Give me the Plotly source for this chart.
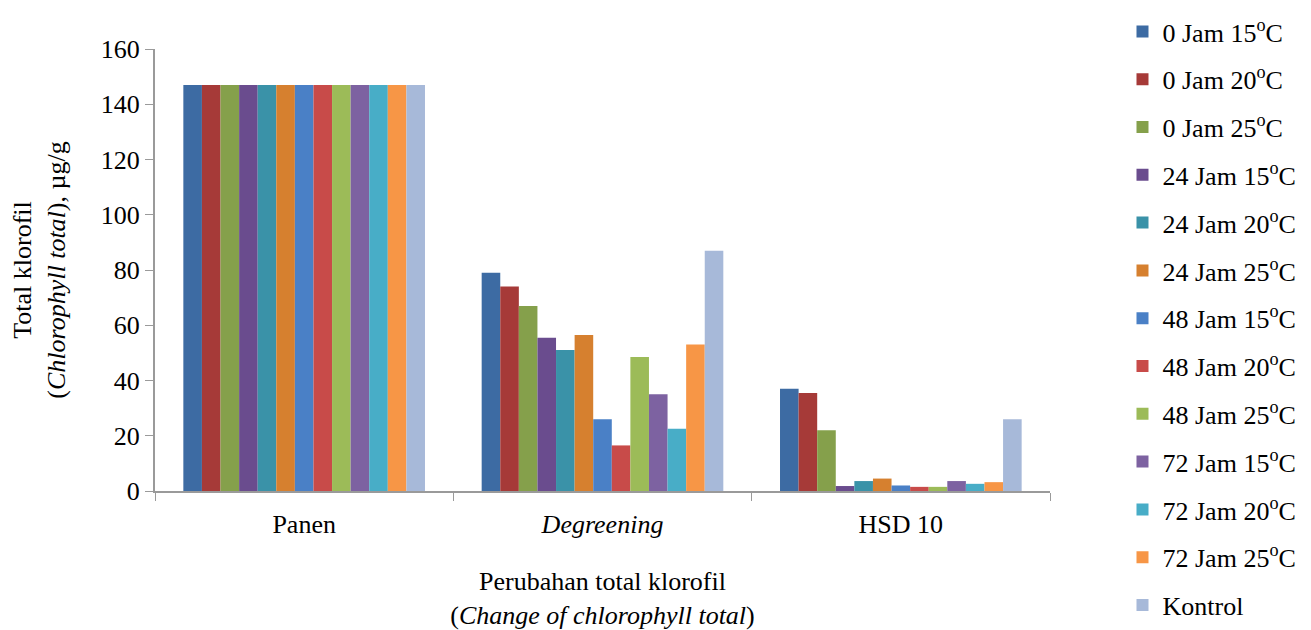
import plotly.graph_objects as go

categories = ["Panen", "<i>Degreening</i>", "HSD 10"]
series_names = ["0 Jam 15<sup>o</sup>C", "0 Jam 20<sup>o</sup>C", "0 Jam 25<sup>o</sup>C",
                "24 Jam 15<sup>o</sup>C", "24 Jam 20<sup>o</sup>C", "24 Jam 25<sup>o</sup>C",
                "48 Jam 15<sup>o</sup>C", "48 Jam 20<sup>o</sup>C", "48 Jam 25<sup>o</sup>C",
                "72 Jam 15<sup>o</sup>C", "72 Jam 20<sup>o</sup>C", "72 Jam 25<sup>o</sup>C",
                "Kontrol"]
colors = ["#3d6ba3", "#a63a38", "#85a04b", "#6a4c8e", "#3a92a8", "#d6802f",
          "#4a80c6", "#c84b49", "#9cbb58", "#7d62a1", "#48adc7", "#f79646", "#a7b9d9"]

panen = [147, 147, 147, 147, 147, 147, 147, 147, 147, 147, 147, 147, 147]
degreening = [79, 74, 67, 55.5, 51, 56.5, 26, 16.5, 48.5, 35, 22.5, 53, 87]
hsd10 = [37, 35.5, 22, 1.8, 3.6, 4.5, 2, 1.5, 1.5, 3.6, 2.6, 3.2, 26]

fig = go.Figure()
for i, name in enumerate(series_names):
    fig.add_trace(go.Bar(
        x=categories,
        y=[panen[i], degreening[i], hsd10[i]],
        name=name,
        legendgroup=str(i),
        marker=dict(color=colors[i], line=dict(width=0)),
    ))

font_family = "Liberation Serif"
fs = 26

fig.update_layout(
    width=1303, height=622,
    barmode="group", bargap=0.19, bargroupgap=0,
    plot_bgcolor="white", paper_bgcolor="white",
    margin=dict(l=147, r=261, t=41, b=139, autoexpand=False),
    font=dict(family=font_family, size=fs, color="black"),
    legend=dict(x=1.081, xanchor="left", y=1.0928, yanchor="top", maxheight=1,
                font=dict(family=font_family, size=fs),
                tracegroupgap=11, itemwidth=30, traceorder="grouped"),
    xaxis=dict(showline=True, linecolor="#9a9a9a", linewidth=2, automargin=False,
               ticks="outside", tickson="boundaries", ticklen=8, tickcolor="#9a9a9a",
               ticklabelstandoff=9,
               tickfont=dict(family=font_family, size=fs),
               title=dict(text="Perubahan total klorofil<br>(<i>Change of chlorophyll total</i>)",
                          font=dict(family=font_family, size=fs), standoff=34)),
    yaxis=dict(range=[0, 160], dtick=20, showline=True, linecolor="#9a9a9a", linewidth=2,
               automargin=False,
               ticks="outside", ticklen=8, tickcolor="#9a9a9a", showgrid=False, zeroline=False,
               tickfont=dict(family=font_family, size=fs),
               title=dict(text="Total klorofil<br>(<i>Chlorophyll total</i>), µg/g",
                          font=dict(family=font_family, size=fs), standoff=30)),
)

fig.write_html("out.html")
